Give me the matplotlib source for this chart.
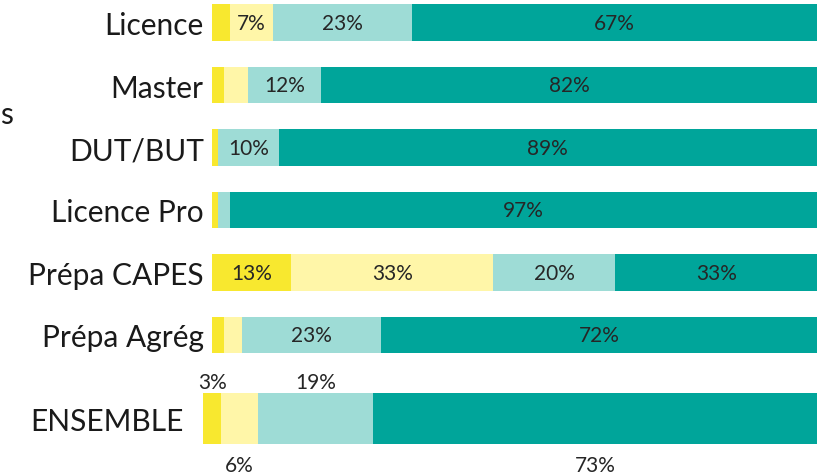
import matplotlib
matplotlib.use('Agg')
import matplotlib.pyplot as plt

plt.rcParams['font.family'] = ['Lato', 'DejaVu Sans']

# categories (top to bottom) and their shares in %
categories = ['Licence', 'Master', 'DUT/BUT', 'Licence Pro', 'Prépa CAPES', 'Prépa Agrég']
s1 = [3, 2, 1, 1, 13, 2]
s2 = [7, 4, 0, 0, 33, 3]
s3 = [23, 12, 10, 2, 20, 23]
s4 = [67, 82, 89, 97, 33, 72]

total_label = 'ENSEMBLE'
total_vals = [3, 6, 19, 73]

colors = ['#F8E82F', '#FFF6A8', '#9EDCD6', '#00A59A']
txt_col = '#262626'

W, H = 817, 477
fig = plt.figure(figsize=(W / 100, H / 100), dpi=100)

# main chart (100% stacked: each row scaled to its own sum)
ax = fig.add_axes([212 / W, 0, 605 / W, 1])
series = [s1, s2, s3, s4]
ypos = list(range(len(categories)))
sums = [sum(col) for col in zip(*series)]
left = [0] * len(categories)
for vals, c in zip(series, colors):
    widths = [100 * v / s for v, s in zip(vals, sums)]
    ax.barh(ypos, widths, left=left, height=0.59, color=c, linewidth=0)
    for i, v in enumerate(vals):
        if v >= 5:
            ax.text(left[i] + widths[i] / 2, i, f'{v}%', ha='center', va='center',
                    fontsize=15, color=txt_col)
    left = [l + w for l, w in zip(left, widths)]
ax.set_xlim(0, 100)
ax.set_ylim((H - 23.5) / 62.5, -23.5 / 62.5)
ax.set_yticks(ypos)
ax.set_yticklabels(categories, fontsize=21.5, color='#1a1a1a')
ax.tick_params(axis='y', length=0, pad=6)
ax.set_xticks([])
for sp in ax.spines.values():
    sp.set_visible(False)

# overall bar
ax2 = fig.add_axes([203 / W, (H - 469.5) / H, 614 / W, 100 / H])
tot = sum(total_vals)
l = 0
for k, (v, c) in enumerate(zip(total_vals, colors)):
    w = 100 * v / tot
    ax2.barh(0, w, left=l, height=0.51, color=c, linewidth=0)
    y_lab = 0.365 if k % 2 == 0 else -0.465
    ax2.text(l + w / 2, y_lab, f'{v}%', ha='center', va='center',
             fontsize=15, color=txt_col)
    l += w
ax2.set_xlim(0, 100)
ax2.set_ylim(-0.5, 0.5)
ax2.set_yticks([0])
ax2.set_yticklabels([total_label], fontsize=21.5, color='#1a1a1a')
ax2.tick_params(axis='y', length=0, pad=14)
ax2.set_xticks([])
for sp in ax2.spines.values():
    sp.set_visible(False)
ax2.patch.set_alpha(0)

# axis title remnant at the far left
fig.text(0, 1 - 115 / H, 's', ha='left', va='center', fontsize=21.5, color='#1a1a1a')

fig.savefig('out.png', dpi=100)
